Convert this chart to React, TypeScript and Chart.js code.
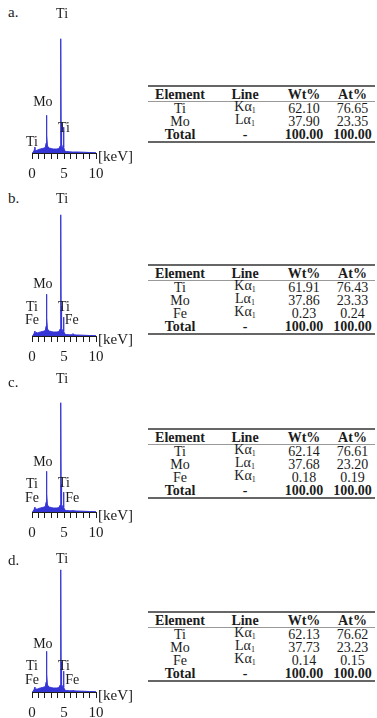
import React, { useEffect, useRef } from 'react';
import { Chart, registerables } from 'chart.js';

Chart.register(...registerables);

const SERIF = '"Liberation Serif", "Times New Roman", serif';
const BLUE = '#3535d6';
const INK = '#1c1c1c';

// Energy grid (keV) shared by the four EDS spectra
const energyKeV = [
  0, 0.15, 0.3, 0.4, 0.45, 0.5, 0.6, 0.7, 0.75, 0.85,
  1.0, 1.3, 1.6, 1.9, 2.1, 2.2, 2.26, 2.29, 2.32, 2.4,
  2.5, 2.7, 3.0, 3.3, 3.6, 3.9, 4.2, 4.4, 4.47, 4.51,
  4.55, 4.62, 4.75, 4.88, 4.93, 4.98, 5.1, 5.4, 5.8, 6.3,
  6.4, 6.5, 7.0, 8.0, 9.0, 10.0,
];

// Counts (arbitrary units) for each sample
const countsA = [
  0, 0.5, 2, 4, 6, 3, 2.5, 2.5, 2.5, 3,
  3.5, 4, 4.5, 5, 6, 10, 20, 38, 18, 8,
  6, 5, 4.5, 4, 4, 4, 4.5, 7, 30, 115,
  30, 8, 4, 8, 26, 6, 2, 1.5, 1.2, 1,
  1, 1, 1, 0.8, 0.5, 0.3,
];
const countsB = [
  0, 0.5, 2, 4, 5, 3, 3, 3.5, 3, 3,
  3.5, 4, 4.5, 5, 6, 10, 22, 42, 18, 8,
  6, 5, 4.5, 4, 4, 4, 4.5, 7, 32, 122,
  30, 8, 4, 7, 19, 5, 2, 1.5, 1.2, 1.2,
  2.5, 1.2, 1, 0.8, 0.5, 0.3,
];
const countsC = [
  0, 0.5, 2, 4, 5, 3, 3, 3, 3, 3,
  3.5, 4, 4.5, 5, 6, 10, 21, 41, 18, 8,
  6, 5, 4.5, 4, 4, 4, 4.5, 7, 30, 110,
  28, 8, 4, 7, 20, 5, 2, 1.5, 1.2, 1.2,
  2, 1.2, 1, 0.8, 0.5, 0.3,
];
const countsD = [
  0, 0.5, 2, 4, 5, 3, 3, 3, 3, 3,
  3.5, 4, 4.5, 5, 6, 10, 21, 41, 18, 8,
  6, 5, 4.5, 4, 4, 4, 4.5, 7, 32, 123,
  30, 8, 4, 7, 21, 5, 2, 1.5, 1.2, 1.2,
  2, 1.2, 1, 0.8, 0.5, 0.3,
];

// x-axis tick labels (keV)
const majorTicks = [0, 5, 10];
const unitLabel = '[keV]';

// Peak labels: element and the (keV, counts) spot where the name sits
type PeakLabel = { text: string; x: number; y: number };
const peaksA: PeakLabel[] = [
  { text: 'Ti', x: 4.7, y: 140 },
  { text: 'Mo', x: 1.7, y: 51 },
  { text: 'Ti', x: 5.0, y: 25 },
  { text: 'Ti', x: 0.0, y: 11 },
];
const peaksB: PeakLabel[] = [
  { text: 'Ti', x: 4.7, y: 138 },
  { text: 'Mo', x: 1.7, y: 52 },
  { text: 'Ti', x: 0.0, y: 29 },
  { text: 'Fe', x: 0.0, y: 16 },
  { text: 'Ti', x: 5.0, y: 29 },
  { text: 'Fe', x: 6.2, y: 16 },
];
const peaksC: PeakLabel[] = [
  { text: 'Ti', x: 4.7, y: 134 },
  { text: 'Mo', x: 1.7, y: 50 },
  { text: 'Ti', x: 0.0, y: 28 },
  { text: 'Fe', x: 0.0, y: 14 },
  { text: 'Ti', x: 5.0, y: 29 },
  { text: 'Fe', x: 6.3, y: 14 },
];
const peaksD: PeakLabel[] = [
  { text: 'Ti', x: 4.7, y: 134 },
  { text: 'Mo', x: 1.7, y: 48 },
  { text: 'Ti', x: 0.0, y: 26 },
  { text: 'Fe', x: 0.0, y: 12 },
  { text: 'Ti', x: 5.0, y: 26 },
  { text: 'Fe', x: 6.3, y: 12 },
];

// Composition tables
const tableHeader = ['Element', 'Line', 'Wt%', 'At%'];
const elementsA = ['Ti', 'Mo'];
const linesA = ['Kα', 'Lα'];
const wtA = ['62.10', '37.90'];
const atA = ['76.65', '23.35'];

const elementsBCD = ['Ti', 'Mo', 'Fe'];
const linesBCD = ['Kα', 'Lα', 'Kα'];
const wtB = ['61.91', '37.86', '0.23'];
const atB = ['76.43', '23.33', '0.24'];
const wtC = ['62.14', '37.68', '0.18'];
const atC = ['76.61', '23.20', '0.19'];
const wtD = ['62.13', '37.73', '0.14'];
const atD = ['76.62', '23.23', '0.15'];
const totalRow = ['Total', '-', '100.00', '100.00'];

const peakLabelPlugin = {
  id: 'peakLabels',
  afterDraw(chart: any, _args: any, opts: any) {
    const { ctx, chartArea } = chart;
    const xs = chart.scales.x;
    const ys = chart.scales.y;
    ctx.save();
    ctx.fillStyle = INK;
    ctx.textAlign = 'center';
    ctx.textBaseline = 'middle';
    ctx.font = `14px ${SERIF}`;
    for (const l of opts.labels as PeakLabel[]) {
      ctx.fillText(l.text, xs.getPixelForValue(l.x), ys.getPixelForValue(l.y));
    }
    ctx.font = `15px ${SERIF}`;
    ctx.textAlign = 'left';
    ctx.fillText(opts.unit, chartArea.right + 2, chartArea.bottom + 4);
    ctx.restore();
  },
};

const CANVAS_W = 135;
const CANVAS_H = 190;

function Spectrum({ counts, labels, top }: { counts: number[]; labels: PeakLabel[]; top: number }) {
  const ref = useRef<HTMLCanvasElement | null>(null);
  useEffect(() => {
    if (!ref.current) return;
    const chart = new Chart(ref.current, {
      type: 'line',
      data: {
        datasets: [
          {
            data: energyKeV.map((e, i) => ({ x: e, y: counts[i] })),
            borderColor: BLUE,
            backgroundColor: BLUE,
            borderWidth: 1,
            fill: 'origin',
            pointRadius: 0,
            tension: 0,
          },
        ],
      },
      options: {
        responsive: false,
        animation: false,
        events: [],
        layout: { padding: { left: 32, right: 39, top: 5, bottom: 0 } },
        plugins: {
          legend: { display: false },
          tooltip: { enabled: false },
          peakLabels: { labels, unit: unitLabel },
        } as any,
        scales: {
          x: {
            type: 'linear',
            min: 0,
            max: 10,
            ticks: {
              stepSize: 1,
              autoSkip: false,
              maxRotation: 0,
              padding: 6,
              color: INK,
              font: { family: SERIF, size: 15 },
              callback: (v: any) => (majorTicks.includes(Number(v)) ? String(v) : ''),
            },
            grid: { drawOnChartArea: false, drawTicks: true, tickLength: 6, color: INK, lineWidth: 1 },
            border: { display: true, color: INK, width: 1 },
          },
          y: { display: false, min: 0, max: 150 },
        },
      },
      plugins: [peakLabelPlugin],
    });
    return () => chart.destroy();
  }, [counts, labels]);
  return (
    <canvas
      ref={ref}
      width={CANVAS_W}
      height={CANVAS_H}
      style={{ position: 'absolute', left: 0, top, width: CANVAS_W, height: CANVAS_H }}
    />
  );
}

const colWidths = [64, 66, 52, 45];

function Row({ cells, bold, height, style }: { cells: React.ReactNode[]; bold?: boolean; height: number; style?: React.CSSProperties }) {
  return (
    <div style={{ display: 'flex', height, alignItems: 'center', fontWeight: bold ? 'bold' : 'normal', ...style }}>
      {cells.map((c, i) => (
        <div key={i} style={{ width: colWidths[i], textAlign: 'center', whiteSpace: 'nowrap' }}>
          {c}
        </div>
      ))}
    </div>
  );
}

function lineCell(l: string) {
  return (
    <span>
      {l}
      <sub style={{ fontSize: 8, verticalAlign: -2 }}>1</sub>
    </span>
  );
}

function CompositionTable({ top, elements, lines, wt, at }: { top: number; elements: string[]; lines: string[]; wt: string[]; at: string[] }) {
  return (
    <div
      style={{
        position: 'absolute',
        left: 148,
        top,
        width: 227,
        fontFamily: SERIF,
        fontSize: 14,
        lineHeight: '13px',
        color: INK,
      }}
    >
      <Row
        cells={tableHeader}
        bold
        height={14}
        style={{ borderTop: '2px solid #666', borderBottom: '1px solid #999' }}
      />
      {elements.map((el, i) => (
        <Row key={el} cells={[el, lineCell(lines[i]), wt[i], at[i]]} height={13} />
      ))}
      <Row cells={totalRow} bold height={13} style={{ borderBottom: '2px solid #666' }} />
    </div>
  );
}

function Letter({ text, top }: { text: string; top: number }) {
  return (
    <div style={{ position: 'absolute', left: 8, top, fontFamily: SERIF, fontSize: 15, color: INK, lineHeight: '15px' }}>
      {text}
    </div>
  );
}

// Axis baseline of each spectrum (page y); canvas is placed so its plot bottom sits there
const CHART_BOTTOM_IN_CANVAS = 155;

export default function App() {
  const panels = [
    { letter: 'a.', letterTop: 5, base: 154, counts: countsA, labels: peaksA, tableTop: 85, elements: elementsA, lines: linesA, wt: wtA, at: atA },
    { letter: 'b.', letterTop: 191, base: 337, counts: countsB, labels: peaksB, tableTop: 264, elements: elementsBCD, lines: linesBCD, wt: wtB, at: atB },
    { letter: 'c.', letterTop: 375, base: 513, counts: countsC, labels: peaksC, tableTop: 428, elements: elementsBCD, lines: linesBCD, wt: wtC, at: atC },
    { letter: 'd.', letterTop: 553, base: 693, counts: countsD, labels: peaksD, tableTop: 611, elements: elementsBCD, lines: linesBCD, wt: wtD, at: atD },
  ];
  return (
    <div style={{ position: 'absolute', left: 0, top: 0, width: 377, height: 718, background: '#fff', overflow: 'hidden' }}>
      {panels.map((p) => (
        <React.Fragment key={p.letter}>
          <Letter text={p.letter} top={p.letterTop} />
          <Spectrum counts={p.counts} labels={p.labels} top={p.base - CHART_BOTTOM_IN_CANVAS} />
          <CompositionTable top={p.tableTop} elements={p.elements} lines={p.lines} wt={p.wt} at={p.at} />
        </React.Fragment>
      ))}
    </div>
  );
}
